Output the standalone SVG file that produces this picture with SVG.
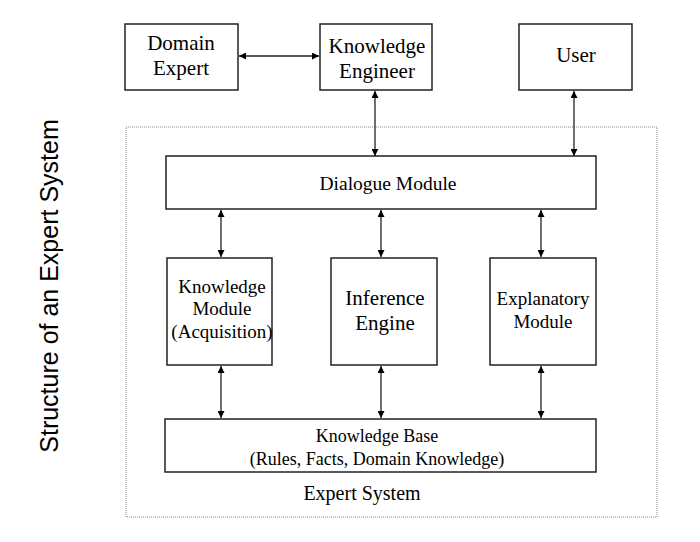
<svg xmlns="http://www.w3.org/2000/svg" width="700" height="542" viewBox="0 0 700 542">
<style>
.box{fill:#fff;stroke:#222;stroke-width:1.5}
.t{font-family:"Liberation Serif","Times New Roman",serif;fill:#000;text-anchor:middle}
.c{stroke:#222;stroke-width:1.3;fill:none;marker-start:url(#a);marker-end:url(#a)}
</style>
<defs>
<marker id="a" viewBox="0 0 10 10" refX="10" refY="5" markerWidth="7" markerHeight="7" markerUnits="userSpaceOnUse" orient="auto-start-reverse">
<path d="M0,0 L10,5 L0,10 z" fill="#000"/>
</marker>
</defs>
<rect width="700" height="542" fill="#fff"/>
<text transform="translate(58,286) rotate(-90)" font-family="Liberation Sans,Arial,sans-serif" font-size="25" text-anchor="middle" fill="#000">Structure of an Expert System</text>
<g id="expert-system">
<rect x="126" y="127" width="531" height="390" fill="none" stroke="#888" stroke-width="1" stroke-dasharray="1,1"/>
<text class="t" x="362" y="500" font-size="20">Expert System</text>
</g>
<g id="connectors">
<line class="c" x1="239" y1="56" x2="319" y2="56"/>
<line class="c" x1="375" y1="91" x2="375" y2="156"/>
<line class="c" x1="574" y1="91" x2="574" y2="156"/>
<line class="c" x1="221" y1="210" x2="221" y2="257"/>
<line class="c" x1="381" y1="210" x2="381" y2="257"/>
<line class="c" x1="541" y1="210" x2="541" y2="257"/>
<line class="c" x1="221" y1="366" x2="221" y2="418"/>
<line class="c" x1="381" y1="366" x2="381" y2="418"/>
<line class="c" x1="541" y1="366" x2="541" y2="418"/>
</g>
<g id="domain-expert">
<rect class="box" x="125" y="24" width="113" height="66"/>
<text class="t" x="181" y="50" font-size="21">Domain</text>
<text class="t" x="181" y="75" font-size="21">Expert</text>
</g>
<g id="knowledge-engineer">
<rect class="box" x="320" y="24" width="112" height="66"/>
<text class="t" x="377" y="53" font-size="21">Knowledge</text>
<text class="t" x="377" y="78" font-size="21">Engineer</text>
</g>
<g id="user">
<rect class="box" x="519" y="24" width="113" height="66"/>
<text class="t" x="576" y="62" font-size="21">User</text>
</g>
<g id="dialogue-module">
<rect class="box" x="166" y="156" width="430" height="53"/>
<text class="t" x="388" y="190" font-size="19.5">Dialogue Module</text>
</g>
<g id="knowledge-module">
<rect class="box" x="167" y="258" width="105" height="107"/>
<text class="t" x="222" y="293" font-size="19">Knowledge</text>
<text class="t" x="222" y="315" font-size="19">Module</text>
<text class="t" x="222" y="338" font-size="19">(Acquisition)</text>
</g>
<g id="inference-engine">
<rect class="box" x="331" y="258" width="106" height="107"/>
<text class="t" x="385" y="305" font-size="21">Inference</text>
<text class="t" x="385" y="330" font-size="21">Engine</text>
</g>
<g id="explanatory-module">
<rect class="box" x="490" y="258" width="106" height="107"/>
<text class="t" x="543" y="305" font-size="19">Explanatory</text>
<text class="t" x="543" y="328" font-size="19">Module</text>
</g>
<g id="knowledge-base">
<rect class="box" x="165" y="419" width="431" height="53"/>
<text class="t" x="377" y="442" font-size="18">Knowledge Base</text>
<text class="t" x="377" y="465" font-size="18">(Rules, Facts, Domain Knowledge)</text>
</g>
</svg>
